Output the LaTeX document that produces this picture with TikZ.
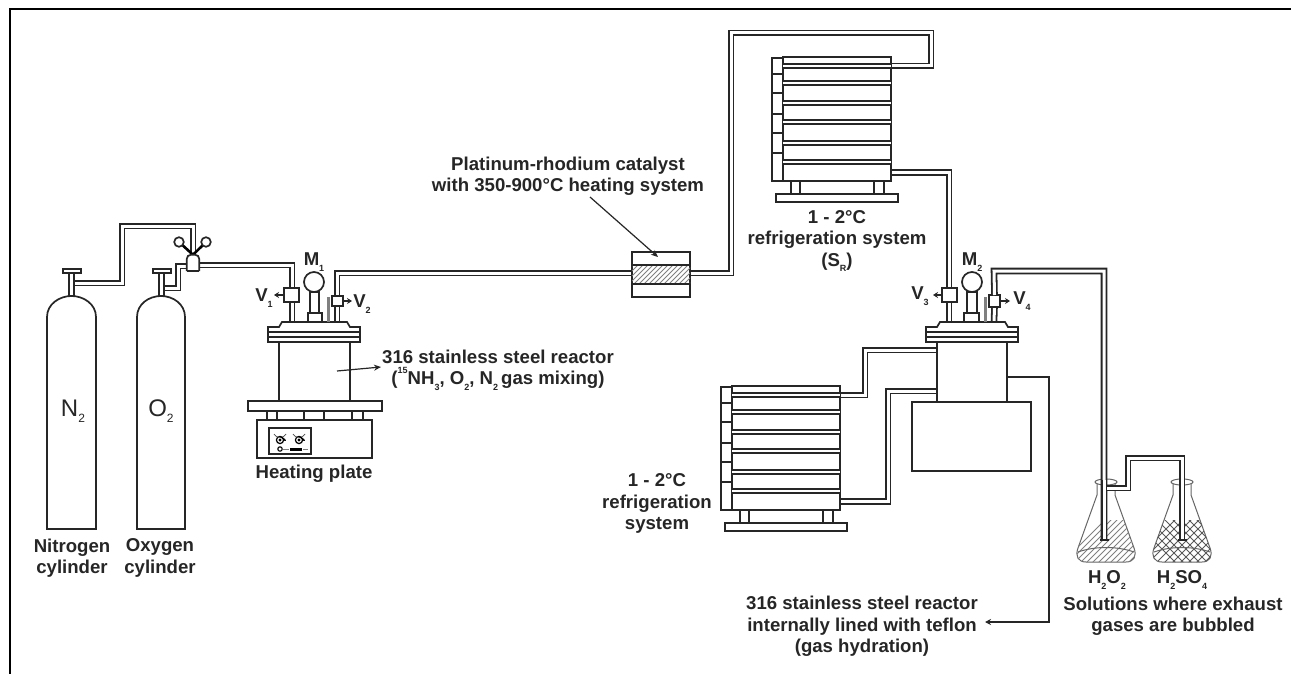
\documentclass[tikz,border=0pt]{standalone}
\usepackage{fontspec}
\setmainfont{Liberation Sans}
\usetikzlibrary{arrows.meta,backgrounds}
\newcommand\sbs[1]{\raisebox{-0.3em}{\fontsize{9}{9}\selectfont #1}}
\newcommand\sps[1]{\raisebox{0.6em}{\fontsize{9}{9}\selectfont #1}}
\newcommand\bigsbs[1]{\raisebox{-0.25em}{\fontsize{12}{12}\selectfont #1}}
\tikzset{
  x=1pt,y=-1pt,
  ln/.style={draw=black!85,line width=1.7pt},
  pipe/.style={draw=black!85,double=white,line width=1.8pt,double distance=3pt},
  rib/.style={draw=black!85,double=white,line width=1.7pt,double distance=1.8pt},
  solid box/.style={ln,fill=white,inner sep=0pt,outer sep=0pt,shape=rectangle},
  lab/.style={font=\bfseries\fontsize{18.6}{21.5}\selectfont,text=black!85,align=center,inner sep=0pt},
  thinarrow/.style={draw=black!85,line width=1.2pt,-{Stealth[length=7pt,width=6pt]}},
  handarrow/.style={draw=black!85,line width=1.5pt,-{Stealth[length=5pt,width=6pt]}},
  flaskline/.style={draw=black!60,line width=1pt},
  hatchline/.style={draw=black!50,line width=0.8pt},
}
\newcommand\bx[5]{% name, x1,y1,x2,y2
  \pgfmathsetmacro\bw{(#4)-(#2)}\pgfmathsetmacro\bh{(#5)-(#3)}
  \pgfmathsetmacro\bcx{((#4)+(#2))/2}\pgfmathsetmacro\bcy{((#5)+(#3))/2}
  \node[solid box,minimum width=\bw pt,minimum height=\bh pt] (#1) at (\bcx,\bcy) {};}
\newcommand\fridge[3]{% name, x, y
  \begin{scope}[shift={(#2,#3)}]
    \bx{#1}{0}{0}{108}{124}
    \coordinate (#1in) at (108,9);
    \coordinate (#1out) at (108,115.5);
    \bx{#1col}{-11}{1}{0}{124}
    \foreach \yy in {17,36,57,76,96} \draw[ln] (-11,\yy) -- (0,\yy);
    \foreach \yy in {9,26,46,65,86,105} \draw[rib] (0,\yy) -- (108,\yy);
    \bx{#1fa}{8}{124}{17}{137}
    \bx{#1fb}{91}{124}{101}{137}
    \bx{#1base}{-7}{137}{115}{145}
  \end{scope}}
\newcommand\cyl[4]{% name, left, right, cap-left
  \pgfmathsetmacro\cc{((#2)+(#3))/2}
  \draw[ln,fill=white] (#2,529) -- (#2,317) .. controls (#2,304) and (\cc-12,296) .. (\cc,296)
     .. controls (\cc+12,296) and (#3,304) .. (#3,317) -- (#3,529) -- cycle;
  \bx{#1neck}{#4+6}{273}{#4+11}{296}
  \bx{#1cap}{#4}{269}{#4+18}{273}
}
\newcommand\reactorhead[3]{% name, x1, x2 of flange
  \draw[ln,fill=white] (#2,327) -- (#2+11,327) -- (#2+14,322) -- (#3-13,322) -- (#3-10,327) -- (#3,327) -- (#3,342) -- (#2,342) -- cycle;
  \draw[ln] (#2,332) -- (#3,332);
  \draw[ln] (#2,337) -- (#3,337);
  \coordinate (#1lid) at (#2,322);
}
\newcommand\flask[2]{% name, center
  \draw[flaskline,fill=white] (#2-9,482) -- (#2-9,495) -- (#2-28,548)
    .. controls (#2-31,556) and (#2-28,562) .. (#2-20,562) -- (#2+20,562)
    .. controls (#2+28,562) and (#2+31,556) .. (#2+28,548) -- (#2+9,495) -- (#2+9,482);
  \draw[flaskline,fill=white] (#2,482) ellipse [x radius=11,y radius=3];
  \coordinate (#1) at (#2,482);
}
\begin{document}
\begin{tikzpicture}
\useasboundingbox (0,0) rectangle (1291,674);
\coordinate (fTL) at (10,9); \coordinate (fTR) at (1291,9); \coordinate (fBL) at (10,674);
\draw[black,line width=2pt] (fTR) -- (fTL) -- (fBL);

% cylinders
\cyl{cN}{47}{96}{63}
\cyl{cO}{137}{185}{153}
\node[font=\fontsize{24}{24}\selectfont,text=black!85,inner sep=0pt] (tN) at (73,411) {N\bigsbs{2}};
\node[font=\fontsize{24}{24}\selectfont,text=black!85,inner sep=0pt] (tO) at (161,411) {O\bigsbs{2}};
\node[lab] (tNc) at (72,558) {Nitrogen\\cylinder};
\node[lab] (tOc) at (160,558) {Oxygen\\cylinder};

% regulator
\node[inner sep=0pt,minimum width=12pt,minimum height=16pt] (reg) at (193,263) {};
\coordinate (hL) at (179,242); \coordinate (hR) at (206,242);
\draw[black,line width=2.6pt] (reg.north) -- (hL);
\draw[black,line width=2.6pt] (reg.north) -- (hR);
\draw[ln,fill=white] (hL) circle (4.8);
\draw[ln,fill=white] (hR) circle (4.8);
\draw[ln,fill=white,rounded corners=4pt] (reg.south west) -- (reg.north west) -- (reg.north east) -- (reg.south east);
\draw[ln] (reg.south west) -- (reg.south east);

% reactor 1
\bx{r1body}{279}{342}{350}{401}
\bx{r1plate}{248}{401}{382}{411}
\bx{f1a}{267}{411}{277}{420}
\bx{f1b}{304}{411}{324}{420}
\bx{f1c}{352}{411}{363}{420}
\bx{hbox}{257}{420}{372}{458}
\bx{panel}{269}{428}{311}{454}
\foreach \kx in {280,299}{
  \draw[black,line width=1.2pt] (\kx,440) circle (3.6);
  \fill[black] (\kx,440) circle (1.6);
  \draw[black!70,line width=0.7pt] (\kx-6,434) arc[start angle=150,end angle=30,radius=7];
  \draw[black,line width=1.2pt,-{Stealth[length=3pt,width=3pt]}] (\kx+1,437) -- (\kx+6,441);
}
\draw[black,line width=1.1pt] (280,449) circle (2.2);
\fill[black] (290,447.5) rectangle (302,450.5);
\draw[black!50,line width=0.6pt] (283,449) -- (289,449) (303,449) -- (308,449);
\reactorhead{r1}{268}{360}
\bx{m1base}{308}{313}{322}{322}
\bx{m1stem}{310}{292}{319}{313}
\node[solid box,shape=circle,minimum size=20pt] (m1) at (314,282) {};
\node[lab] (tM1) at (314,262) {M\sbs{1}};
\fill[black!50] (327,297) rectangle (329.5,322);
\coordinate (r1a) at (292,322); \coordinate (r1b) at (337,322);
\bx{v1}{284}{288}{299}{302}
\bx{v2}{332}{296}{343}{306}
\draw[handarrow] (v1.west) -- +(-10,0);
\draw[handarrow] (v2.east) -- +(9,0);
\node[lab] (tV1) at (264,298) {V\sbs{1}};
\node[lab] (tV2) at (362,304) {V\sbs{2}};
\node[lab] (tHP) at (314,474) {Heating plate};
\coordinate (a1s) at (337,371);
\coordinate (a1e) at (381,367);
\draw[thinarrow] (a1s) -- (a1e);
\node[lab] (tR1) at (498,370) {316 stainless steel reactor\\(\sps{15}NH\sbs{3}, O\sbs{2}, N\sbs{2}\,gas mixing)};

% catalyst
\bx{cat}{632}{252}{690}{297}
\begin{scope}
  \clip (632,265) rectangle (690,284);
  \foreach \i in {0,5,...,90} \draw[hatchline] (612+\i,286) -- (612+\i+24,262);
\end{scope}
\draw[ln] (632,265) -- (690,265) (632,284) -- (690,284);
\node[lab] (tCat) at (568,176) {Platinum-rhodium catalyst\\with 350-900°C heating system};
\coordinate (a2s) at (590,197); \coordinate (a2e) at (658,257);
\draw[thinarrow] (a2s) -- (a2e);

% fridges
\fridge{fa}{783}{57}
\fridge{fb}{732}{386}
\node[lab] (tFa) at (837,241) {1 - 2°C\\refrigeration system\\(S\sbs{R})};
\node[lab] (tFb) at (657,503.5) {1 - 2°C\\refrigeration\\system};

% reactor 2
\bx{r2box}{912}{402}{1031}{471}
\bx{r2body}{937}{342}{1007}{402}
\reactorhead{r2}{926}{1018}
\bx{m2base}{964}{313}{979}{322}
\bx{m2stem}{967}{292}{977}{313}
\node[solid box,shape=circle,minimum size=20pt] (m2) at (972,282) {};
\node[lab] (tM2) at (972,262) {M\sbs{2}};
\fill[black!50] (984,297) rectangle (986.5,322);
\coordinate (r2a) at (949,322); \coordinate (r2b) at (994,322);
\bx{v3}{942}{288}{957}{302}
\bx{v4}{989}{295}{1000}{307}
\draw[handarrow] (v3.west) -- +(-9,0);
\draw[handarrow] (v4.east) -- +(10,0);
\node[lab] (tV3) at (920,296) {V\sbs{3}};
\node[lab] (tV4) at (1022,301) {V\sbs{4}};
\node[lab] (tR2) at (862,626.5) {316 stainless steel reactor\\internally lined with teflon\\(gas hydration)};
\coordinate (r2out) at (1007,377); \coordinate (tefl) at (985,622);
\draw[draw=black!85,line width=1.5pt,-{Stealth[length=6pt,width=6pt]}] (r2out) -- (1049,377) -- (1049,622) -- (tefl);

% flasks
\flask{fl1}{1106}
\flask{fl2}{1182}
\begin{scope}
  \clip (1088,520) -- (1124,520) -- (1134,548) .. controls (1137,556) and (1134,562) .. (1126,562) -- (1086,562) .. controls (1078,562) and (1075,556) .. (1078,548) -- cycle;
  \foreach \i in {0,6,...,120} \draw[hatchline] (1060+\i,565) -- (1060+\i+48,517);
\end{scope}
\draw[flaskline] (1078,552) .. controls (1095,546) and (1117,546) .. (1134,552);
\begin{scope}
  \clip (1164,520) -- (1200,520) -- (1210,548) .. controls (1213,556) and (1210,562) .. (1202,562) -- (1162,562) .. controls (1154,562) and (1151,556) .. (1154,548) -- cycle;
  \foreach \i in {0,8,...,130} {
    \draw[draw=black!65,line width=1pt] (1130+\i,565) -- (1130+\i+48,517);
    \draw[draw=black!65,line width=1pt] (1130+\i,517) -- (1130+\i+48,565);
  }
\end{scope}
\draw[flaskline] (1154,552) .. controls (1171,546) and (1193,546) .. (1210,552);
\coordinate (tb1) at (1104,540); \coordinate (tb2) at (1182,540);
\draw[pipe] (v4.north) -- (994,271) -- (1104,271) -- (tb1);
\draw[pipe] (1106,488) -- (1128,488) -- (1128,458) -- (1182,458) -- (tb2);
\draw[pipe] (1104,480) -- (tb1);
\draw[draw=black!85,line width=1.5pt] (1099.5,540) -- (1108.5,540) (1177.5,540) -- (1186.5,540);
\node[lab] (tH1) at (1107,580) {H\sbs{2}O\sbs{2}};
\node[lab] (tH2) at (1182,580) {H\sbs{2}SO\sbs{4}};
\node[lab] (tSol) at (1173,616) {Solutions where exhaust\\gases are bubbled};

% pipes behind everything
\begin{scope}[on background layer]
  \fill[white] (0,0) rectangle (1291,674);
  \draw[pipe] (cNneck.east |- 0,283) -- (122,283) -- (122,226) -- (193,226) -- (reg.north);
  \draw[pipe] (cOneck.east |- 0,288) -- (178,288) -- (178,266) -- (reg.west |- 0,266);
  \draw[pipe] (reg.east |- 0,265) -- (292,265) -- (r1a);
  \draw[pipe] (r1b) -- (337,273) -- (cat.west |- 0,273);
  \draw[pipe] (cat.east |- 0,273) -- (731,273) -- (731,33) -- (931,33) -- (931,66) -- (fain);
  \draw[pipe] (faout) -| (r2a);
  \draw[pipe] (r2b) -- (v4.south);
  \draw[pipe] (fbin) -| (865,350) -- (r2body.west |- 0,350);
  \draw[pipe] (fbout) -| (888,391) -- (r2body.west |- 0,391);
\end{scope}
\end{tikzpicture}
\end{document}
